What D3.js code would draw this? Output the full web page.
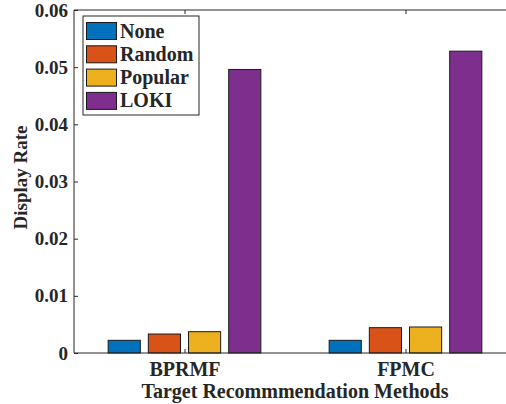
<!DOCTYPE html>
<html>
<head>
<meta charset="utf-8">
<script src="https://cdn.jsdelivr.net/npm/d3@7"></script>
<style>
  html, body { margin: 0; padding: 0; background: #fff; }
  svg { display: block; }
  text { font-family: "Liberation Serif", "Times New Roman", serif; font-weight: bold; fill: #262626; }
</style>
</head>
<body>
<svg id="chart" width="506" height="404"></svg>
<script>
// Display rate per attack strategy, grouped by target recommender
const methods = ["BPRMF", "FPMC"];
const strategies = ["None", "Random", "Popular", "LOKI"];
const noneValues = [0.00222, 0.00222];
const randomValues = [0.00332, 0.00443];
const popularValues = [0.00373, 0.00455];
const lokiValues = [0.0496, 0.0528];
const colors = ["#0072BD", "#D95319", "#EDB120", "#7E2F8E"];
const yTicks = [0, 0.01, 0.02, 0.03, 0.04, 0.05, 0.06];

const seriesValues = [noneValues, randomValues, popularValues, lokiValues];

const svg = d3.select("#chart");
const W = 506, H = 404;
svg.append("rect").attr("width", W).attr("height", H).attr("fill", "#fff");

const plot = { left: 74, top: 10, bottom: 353, right: 516 };

// Group positions 1..n with half-unit padding on each side
const x = d3.scaleLinear().domain([0.5, methods.length + 0.5]).range([plot.left, plot.right]);
const y = d3.scaleLinear().domain([0, 0.06]).range([plot.bottom, plot.top]);

const nS = strategies.length;
const groupWidth = Math.min(0.8, nS / (nS + 1.5));
const step = groupWidth / nS;
const barW = step * 0.8;

const axisColor = "#262626";

// Bars
strategies.forEach((s, si) => {
  const g = svg.append("g");
  g.selectAll("rect")
    .data(seriesValues[si])
    .join("rect")
    .attr("x", (d, i) => x(i + 1 + (si - (nS - 1) / 2) * step - barW / 2))
    .attr("width", (d, i) => x(barW) - x(0))
    .attr("y", d => y(d))
    .attr("height", d => y(0) - y(d))
    .attr("fill", colors[si])
    .attr("stroke", "#1a1a1a")
    .attr("stroke-width", 1);
});

// Axes box (left, top, bottom)
const frame = svg.append("g").attr("stroke", axisColor).attr("stroke-width", 1).attr("fill", "none");
frame.append("line").attr("x1", plot.left).attr("x2", plot.left).attr("y1", plot.top).attr("y2", plot.bottom);
frame.append("line").attr("x1", plot.left).attr("x2", W).attr("y1", plot.top).attr("y2", plot.top);
frame.append("line").attr("x1", plot.left).attr("x2", W).attr("y1", plot.bottom).attr("y2", plot.bottom);

// Y axis: inward ticks with labels on the left
const yAxis = d3.axisLeft(y).tickValues(yTicks).tickSize(-4).tickPadding(6)
  .tickFormat(d => d === 0 ? "0" : d3.format(".2f")(d));
const yg = svg.append("g").attr("transform", `translate(${plot.left},0)`).call(yAxis);
yg.select(".domain").remove();
yg.selectAll(".tick line").attr("stroke", axisColor);
yg.selectAll(".tick text").attr("font-size", 19).attr("fill", axisColor)
  .style("font-family", '"Liberation Serif", serif').style("font-weight", "bold");

// X axis: inward ticks at group centres (bottom and top)
const xAxis = d3.axisBottom(x).tickValues(d3.range(1, methods.length + 1)).tickSize(-4)
  .tickFormat(d => methods[d - 1]);
const xg = svg.append("g").attr("transform", `translate(0,${plot.bottom})`).call(xAxis);
xg.select(".domain").remove();
xg.selectAll(".tick line").attr("stroke", axisColor);
xg.selectAll(".tick text").attr("font-size", 20).attr("fill", axisColor)
  .attr("y", 23).attr("dy", 0)
  .style("font-family", '"Liberation Serif", serif').style("font-weight", "bold");

const xTop = d3.axisTop(x).tickValues(d3.range(1, methods.length + 1)).tickSize(-4).tickFormat("");
const xtg = svg.append("g").attr("transform", `translate(0,${plot.top})`).call(xTop);
xtg.select(".domain").remove();
xtg.selectAll(".tick line").attr("stroke", axisColor);

// Axis titles
svg.append("text")
  .attr("x", (plot.left + plot.right) / 2).attr("y", 398)
  .attr("text-anchor", "middle").attr("font-size", 20)
  .text("Target Recommmendation Methods");

svg.append("text")
  .attr("transform", `translate(27,${(plot.top + plot.bottom) / 2 - 4}) rotate(-90)`)
  .attr("text-anchor", "middle").attr("font-size", 19)
  .text("Display Rate");

// Legend
const lg = svg.append("g").attr("transform", "translate(83,16)");
lg.append("rect").attr("x", 0).attr("y", 0).attr("width", 116).attr("height", 99)
  .attr("fill", "#fff").attr("stroke", axisColor).attr("stroke-width", 1);
strategies.forEach((s, i) => {
  const row = lg.append("g").attr("transform", `translate(0,${6 + i * 23.3})`);
  row.append("rect").attr("x", 3.5).attr("y", 0.5).attr("width", 30).attr("height", 17)
    .attr("fill", colors[i]).attr("stroke", "#1a1a1a").attr("stroke-width", 1);
  row.append("text").attr("x", 37).attr("y", 15.5).attr("font-size", 20).text(s);
});
</script>
</body>
</html>
